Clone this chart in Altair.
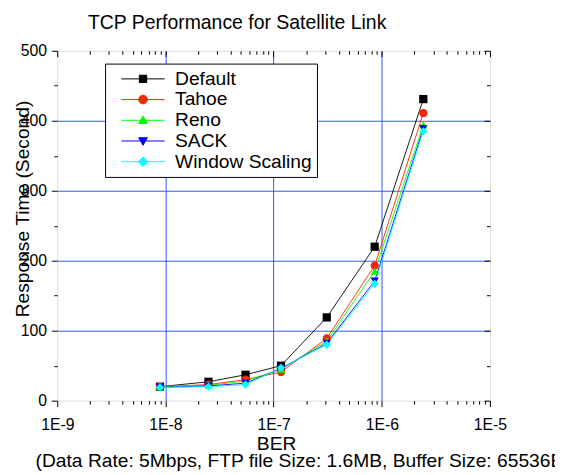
import altair as alt
import pandas as pd

# ---- data ----
ber = [8.9e-9, 2.5e-8, 5.5e-8, 1.17e-7, 3.1e-7, 8.6e-7, 2.42e-6]
default = [20, 27, 37, 50, 119, 220, 431]
tahoe = [20, 23, 30, 41, 89, 193, 411]
reno = [20, 22, 28, 45, 85, 185, 394]
sack = [19, 21, 25, 46, 82, 171, 389]
wscale = [19, 20, 23, 47, 80, 167, 385]

series = ["Default", "Tahoe", "Reno", "SACK", "Window Scaling"]
colors = ["#000000", "#ff2200", "#00ff00", "#0000ff", "#00ffff"]
shapes = ["square", "circle", "triangle-up", "triangle-down", "diamond"]
legend_paths = [
    "M-1,0H1M-0.17,-0.17H0.17V0.17H-0.17Z",
    "M-1,0H1M-0.2,0A0.2,0.2 0 1,0 0.2,0A0.2,0.2 0 1,0 -0.2,0Z",
    "M-1,0H1M0,-0.2L0.2,0.15L-0.2,0.15Z",
    "M-1,0H1M0,0.2L0.2,-0.15L-0.2,-0.15Z",
    "M-1,0H1M0,-0.22L0.22,0L0,0.22L-0.22,0Z",
]

x_major = [1e-9, 1e-8, 1e-7, 1e-6, 1e-5]
x_ticks = sorted(x_major + [m * d for d in x_major[:-1] for m in range(2, 10)])
y_ticks = list(range(0, 501, 50))

rows = []
for name, vals in zip(series, [default, tahoe, reno, sack, wscale]):
    for b, v in zip(ber, vals):
        rows.append({"series": name, "ber": b, "time": v})
df = pd.DataFrame(rows)

FONT = "Liberation Sans"
GRID = "#3355ff"
is_major_x = "abs(log(datum.value)/LN10 - round(log(datum.value)/LN10)) < 0.01"
is_major_y = "datum.value % 100 == 0"

xscale = alt.Scale(type="log", domain=[1e-9, 1e-5], nice=False)
yscale = alt.Scale(domain=[0, 500], nice=False, zero=True)

bottom_axis = alt.Axis(
    orient="bottom", values=x_ticks, domain=False,
    labelExpr=f"{is_major_x} ? '1E' + round(log(datum.value)/LN10) : ''",
    labelFlush=False, labelOverlap=False, labelFontSize=16, labelFont=FONT,
    labelColor="black", labelPadding=10,
    tickSize={"expr": f"{is_major_x} ? 6 : 3.5"}, tickColor="black",
    grid=True,
    gridColor={"condition": {"test": f"{is_major_x} && datum.value > 2e-9 && datum.value < 5e-6",
                             "value": GRID}, "value": "transparent"},
    gridWidth=1,
    title="BER", titleFont=FONT, titleFontSize=19.5, titleFontWeight="normal",
    titleColor="black", titleX=222, titleY=44, titleAlign="center", titleBaseline="middle",
)
left_axis = alt.Axis(
    orient="left", values=y_ticks, domain=False,
    labelExpr=f"{is_major_y} ? datum.label : ''",
    labelOverlap=False, labelFontSize=16, labelFont=FONT, labelColor="black", labelPadding=5,
    tickSize={"expr": f"{is_major_y} ? 6 : 3.5"}, tickColor="black",
    grid=True,
    gridColor={"condition": {"test": f"{is_major_y} && datum.value > 0 && datum.value < 500",
                             "value": GRID}, "value": "transparent"},
    gridWidth=1,
    title="Response Time (Second)", titleFont=FONT, titleFontSize=19.5, titleFontWeight="normal",
    titleColor="black", titleX=-35, titleY=160, titleAngle=270,
    titleAlign="center", titleBaseline="middle",
)
top_axis = alt.Axis(
    orient="top", values=x_ticks, domain=False, labels=False, grid=False,
    tickSize={"expr": f"{is_major_x} ? -6 : -3.5"}, tickColor="black",
    title="TCP Performance for Satellite Link", titleFont=FONT, titleFontSize=19.7,
    titleFontWeight="normal", titleColor="black", titleX=182, titleY=-29,
    titleAlign="center", titleBaseline="middle", titleAngle=0,
)
right_axis = alt.Axis(
    orient="right", values=y_ticks, domain=False, labels=False, grid=False,
    tickSize={"expr": f"{is_major_y} ? -6 : -3.5"}, tickColor="black", title=None,
)

lines = alt.Chart(df).mark_line(strokeWidth=0.9).encode(
    x=alt.X("ber:Q", scale=xscale, axis=bottom_axis),
    y=alt.Y("time:Q", scale=yscale, axis=left_axis),
    color=alt.Color("series:N", scale=alt.Scale(domain=series, range=colors), legend=None),
)

points = alt.Chart(df).mark_point(filled=True, opacity=1, size=70).encode(
    x=alt.X("ber:Q", scale=xscale, axis=None),
    y=alt.Y("time:Q", scale=yscale, axis=None),
    color=alt.Color("series:N", scale=alt.Scale(domain=series, range=colors), legend=None),
    shape=alt.Shape("series:N", scale=alt.Scale(domain=series, range=shapes), legend=None),
)

leg = alt.Legend(
    title=None, orient="none", legendX=48.5, legendY=13, padding=5,
    strokeColor="black", fillColor="white", cornerRadius=0,
    symbolSize=1936, symbolStrokeWidth=1, symbolOffset=11,
    labelFont=FONT, labelFontSize=19.5, labelColor="black", labelOffset=10,
    rowPadding=0, clipHeight=21, labelLimit=300,
)
legend_layer = alt.Chart(df).transform_filter("false").mark_point(
    filled=True, opacity=1, strokeWidth=1
).encode(
    x=alt.X("ber:Q", scale=xscale, axis=None),
    y=alt.Y("time:Q", scale=yscale, axis=None),
    fill=alt.Fill("series:N", scale=alt.Scale(domain=series, range=colors), legend=leg),
    stroke=alt.Stroke("series:N", scale=alt.Scale(domain=series, range=colors), legend=leg),
    shape=alt.Shape("series:N", scale=alt.Scale(domain=series, range=legend_paths), legend=leg),
)

mirror = alt.Chart(df).mark_point(opacity=0).encode(
    x=alt.X("ber:Q", scale=xscale, axis=top_axis),
    y=alt.Y("time:Q", scale=yscale, axis=right_axis),
)

chart = alt.layer(lines, points, legend_layer, mirror).resolve_axis(
    x="independent", y="independent"
).resolve_scale(
    shape="independent", fill="independent", stroke="independent"
).properties(
    width=439, height=355,
    autosize=alt.AutoSizeParams(type="none"),
    padding={"left": 50, "top": 40, "right": 66, "bottom": 72},
    title=alt.TitleParams(
        text="(Data Rate: 5Mbps, FTP file Size: 1.6MB, Buffer Size: 65536Bytes)",
        orient="bottom", anchor="start", dx=23, offset=-1,
        font=FONT, fontSize=19.5, fontWeight="normal", color="black",
    ),
).configure_view(stroke="black", strokeWidth=1).configure(background="white")

chart.save("out.html", embed_options={"renderer": "svg", "actions": False})
